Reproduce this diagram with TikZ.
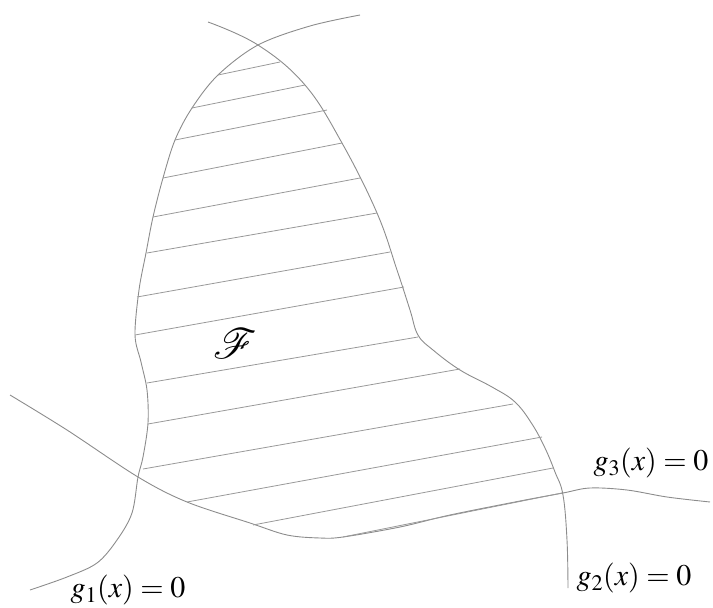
\documentclass[tikz,border=0pt]{standalone}
\usepackage{mathptmx}
\usepackage{mathrsfs}
\begin{document}
\begin{tikzpicture}[x=1pt,y=-1pt,
  curve/.style={draw=black!45,line width=0.9pt},
  hatch/.style={draw=black!40,line width=0.8pt},
  lab/.style={inner sep=0pt,font=\fontsize{30}{36}\selectfont}]
\useasboundingbox (0,0) rectangle (713,608);
% g1
\draw[curve] plot[smooth,tension=0.55] coordinates {(360,15) (310,26) (258,45) (218,75) (192,108) (175,140) (163,178) (153,217) (146,253) (139,290) (135,335) (141,362) (147,390) (148,423) (143,457) (138,477) (132,513) (117,540) (97,563) (67,577) (30,590)};
% g2
\draw[curve] plot[smooth,tension=0.65] coordinates {(208,22) (258,45) (305,85) (342,143) (377,213) (397,270) (410,310) (418,335) (433,350) (460,370) (492,387) (515,402) (532,424) (545,448) (555,472) (563,495) (567,540) (568,588)};
% g3
\draw[curve] plot[smooth,tension=0.55] coordinates {(10,395) (67,430) (138,477) (187,502) (250,523) (287,535) (320,538) (343,537) (400,527) (450,515) (520,501) (563,493) (590,488) (627,490) (667,497) (710,502)};
% hatching
\foreach \a/\b in {{(218,75)}/{(280,62)}, {(192,108)}/{(305,85)}, {(175,140)}/{(327,110)}, {(163,178)}/{(342,143)}, {(153,217)}/{(360,178)}, {(147,253)}/{(377,213)}, {(137,297)}/{(390,252)}, {(135,335)}/{(404,287)}, {(147,383)}/{(418,337)}, {(148,424)}/{(460,369)}, {(143,469)}/{(513,404)}, {(187,502)}/{(542,437)}, {(253,525)}/{(553,468)}, {(343,537)}/{(562,493)}}
  \draw[hatch] \a -- \b;
\node[inner sep=0pt,scale=1.7,font=\fontsize{24.88}{28}\selectfont] (F) at (235,344) {$\mathscr{F}$};
\node[lab] (l1) at (128,590) {$g_1(x)=0$};
\node[lab] (l2) at (634,578) {$g_2(x)=0$};
\node[lab] (l3) at (651,463) {$g_3(x)=0$};
\end{tikzpicture}
\end{document}
